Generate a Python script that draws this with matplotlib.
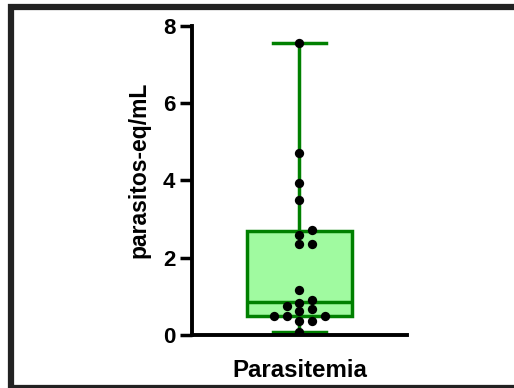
import matplotlib
matplotlib.use("Agg")
import matplotlib.pyplot as plt
import numpy as np
from matplotlib.patches import Rectangle

plt.rcParams["font.family"] = ["Liberation Sans", "DejaVu Sans"]
plt.rcParams["font.weight"] = "bold"

# data
category = "Parasitemia"
values = [7.56, 4.71, 3.93, 3.48, 2.72, 2.58, 2.36, 2.36, 1.17, 0.91,
          0.82, 0.75, 0.68, 0.63, 0.50, 0.50, 0.50, 0.37, 0.35, 0.085]
y_ticks = [0, 2, 4, 6, 8]
y_label = "parasitos-eq/mL"

data = np.array(values)
q1, med, q3 = np.percentile(data, [25, 50, 75], method="weibull")
stats = [dict(med=med, q1=q1, q3=q3, whislo=data.min(), whishi=data.max(),
              fliers=[], label=category)]

fig = plt.figure(figsize=(5.14, 3.88), dpi=100)
ax = fig.add_axes([0.3735, 0.1366, 0.418, 0.797])

green = "#008000"
ax.bxp(stats, positions=[0], widths=0.485, patch_artist=True,
       boxprops=dict(facecolor="#a0faa0", edgecolor=green, linewidth=2.5),
       medianprops=dict(color=green, linewidth=2.5),
       whiskerprops=dict(color=green, linewidth=2.5),
       capprops=dict(color=green, linewidth=2.5),
       capwidths=0.25, zorder=2)


def lane_offsets(ys, px_per_y, lane_w, min_gap):
    # lane based swarm: each point goes to the first free lane (0, +1, -1, +2 ...)
    order = np.argsort(ys, kind="stable")
    lanes = {}
    xs = np.zeros(len(ys))
    seq = [0, 1, -1, 2, -2, 3, -3, 4, -4]
    for i in order:
        yp = ys[i] * px_per_y
        for ln in seq:
            prev = lanes.get(ln)
            if prev is None or yp - prev >= min_gap:
                lanes[ln] = yp
                xs[i] = ln * lane_w
                break
    return xs


offs = lane_offsets(data, 38.6, 12.7 / 215.0, 7.0)
ax.scatter(offs, data, s=45, color="black", zorder=3, linewidths=0)

ax.set_xlim(-0.5, 0.5)
ax.set_ylim(0, 8)
ax.set_yticks(y_ticks)
ax.set_xticks([0])
ax.set_xticklabels([category], fontsize=17.3, fontweight="bold")
ax.tick_params(axis="x", length=0, pad=17)
ax.tick_params(axis="y", length=9, width=2.5, labelsize=16, pad=3)
for t in ax.get_yticklabels():
    t.set_fontweight("bold")
ax.text(-0.248, 0.534, y_label, transform=ax.transAxes, rotation=90,
        ha="center", va="center", fontsize=16.5, fontweight="bold")
for s in ["top", "right"]:
    ax.spines[s].set_visible(False)
for s in ["left", "bottom"]:
    ax.spines[s].set_linewidth(2.8)

# outer frame
fig.patches.append(Rectangle((11 / 514, 0.0), 1.2, 1 - 7 / 388,
                             transform=fig.transFigure, fill=False,
                             edgecolor="#222222", linewidth=4.5))

fig.savefig("out.png", dpi=100)
